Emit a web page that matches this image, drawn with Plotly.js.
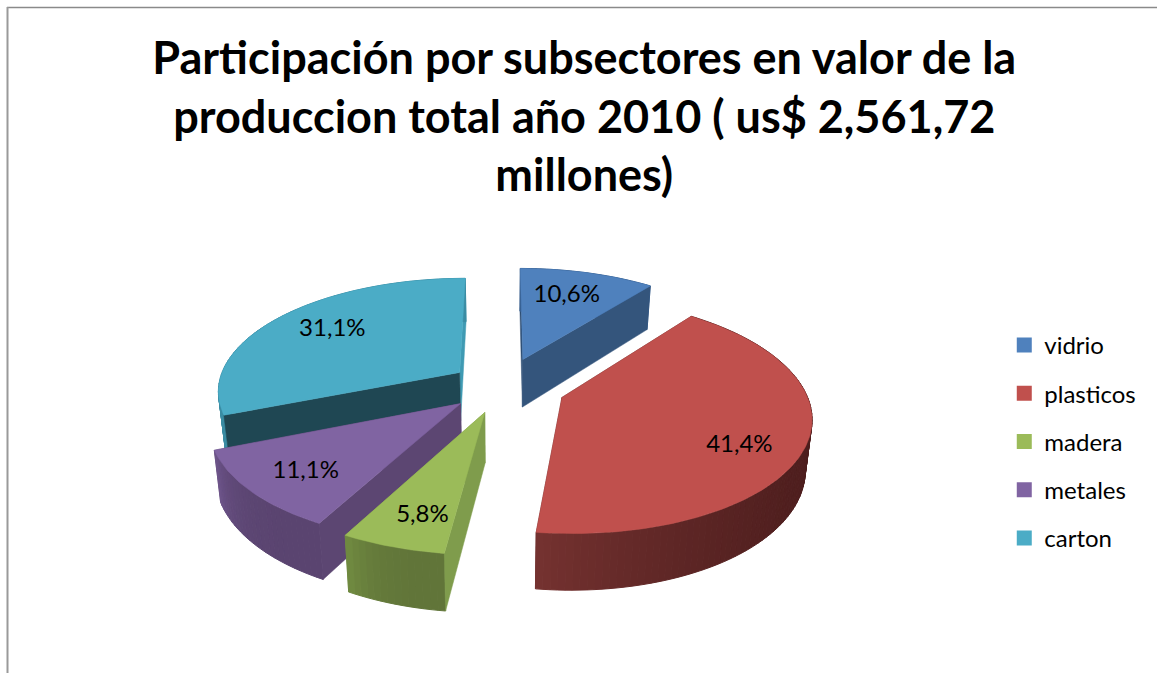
<!DOCTYPE html>
<html>
<head>
<meta charset="utf-8">
<script src="https://cdn.plot.ly/plotly-3.0.1.min.js"></script>
<style>html,body{margin:0;padding:0;background:#fff}#chart{width:1157px;height:673px}</style>
</head>
<body>
<div id="chart"></div>
<script>
// Data
const categories = ["vidrio", "plasticos", "madera", "metales", "carton"];
const values = [10.6, 41.4, 5.8, 11.1, 31.1];
const titleText = "Participación por subsectores en valor de la<br>produccion total año 2010 ( us$ 2,561,72<br>millones)";

// Styles
const topColors = ["#4f81bd", "#c0504d", "#9bbb59", "#8064a2", "#4bacc6"];
const startWallColors = ["#2f4f75", "#5a2524", "#7f9c4c", "#5c4672", "#1f4753"];
const endWallColors = ["#34557c", "#5a2524", "#7f9c4c", "#5c4672", "#3f9ab3"];
const outerStartColors = ["#365f91", "#4a1c1c", "#617539", "#5a4470", "#3a8ca3"];
const outerEndColors = ["#365f91", "#753230", "#718c41", "#6e558b", "#3a8ca3"];
const pulls = [0.26, 0.26, 0.24, 0.23, 0.22];
const labelRadius = [0.707, 0.763, 0.755, 0.752, 0.72];
const labelAngleShift = [-1.4, 6.2, -1.3, 0.6, 2.2];
const labelNudge = [0, 3.5, 5.5, 5, 0.5];
const drawOrder = [4, 0, 3, 2, 1];

// Projection of the tilted pie onto the page
const view = {cx: 503, cy: 386, rx: 242, ry: 112, persp: 0.15, depth: 49, bottomScale: 0.978};
const rad = d => d * Math.PI / 180;
function project(X, Y, down) {
  const w = 1 + view.persp * Y;
  const x = view.cx + view.rx * X / w;
  const y = view.cy - view.ry * Y / w;
  if (!down) return [x, y];
  return [view.cx + (x - view.cx) * view.bottomScale, y + view.depth / Math.pow(w, 0.8)];
}
const total = values.reduce((a, b) => a + b, 0);
let acc = 0;
const slices = values.map((v, i) => {
  const start = acc / total * 360;
  acc += v;
  const end = acc / total * 360;
  const mid = (start + end) / 2;
  return {i, start, end, mid,
    ox: pulls[i] * Math.sin(rad(mid)), oy: pulls[i] * Math.cos(rad(mid))};
});
const rim = (s, t, r, down) =>
  project(s.ox + r * Math.sin(rad(t)), s.oy + r * Math.cos(rad(t)), down);
const apex = (s, down) => project(s.ox, s.oy, down);

function hex(c) { return [1, 3, 5].map(k => parseInt(c.substr(k, 2), 16)); }
function mix(a, b, f) {
  const A = hex(a), B = hex(b);
  return "rgb(" + A.map((x, k) => Math.round(x + (B[k] - x) * f)).join(",") + ")";
}
function poly(pts, color, lw) {
  return {type: "scatter", mode: "lines", fill: "toself", fillcolor: color,
    x: pts.map(p => p[0]).concat(pts[0][0]), y: pts.map(p => p[1]).concat(pts[0][1]),
    line: {color: color, width: lw}, showlegend: false, hoverinfo: "skip"};
}

const traces = [];
drawOrder.forEach(idx => {
  const s = slices[idx];
  const wall = (t, c) => poly([apex(s, false), rim(s, t, 1, false), rim(s, t, 1, true), apex(s, true)], c, 0.5);
  const startFront = Math.sin(rad(s.start)) < -1e-6;
  const endFront = Math.sin(rad(s.end)) > 1e-6;
  // walls facing away first
  if (!startFront) traces.push(wall(s.start, startWallColors[idx]));
  if (!endFront) traces.push(wall(s.end, endWallColors[idx]));
  // outer wall in thin strips for the shading
  const n = Math.max(6, Math.ceil((s.end - s.start) / 1.5));
  for (let k = 0; k < n; k++) {
    const t0 = s.start + (s.end - s.start) * k / n;
    const t1 = s.start + (s.end - s.start) * (k + 1) / n;
    const f = Math.pow((k + 0.5) / n, 3.5);
    traces.push(poly([rim(s, t0, 1, false), rim(s, t1, 1, false), rim(s, t1, 1, true), rim(s, t0, 1, true)],
      mix(outerStartColors[idx], outerEndColors[idx], f), 1));
  }
  // walls facing the viewer
  if (startFront) traces.push(wall(s.start, startWallColors[idx]));
  if (endFront) traces.push(wall(s.end, endWallColors[idx]));
  // top face
  const top = [apex(s, false)];
  for (let t = s.start; t < s.end; t += 1) top.push(rim(s, t, 1, false));
  top.push(rim(s, s.end, 1, false));
  traces.push(poly(top, topColors[idx], 0.5));
});

// percentage labels
const labelPts = slices.map(s => rim(s, s.mid + labelAngleShift[s.i], labelRadius[s.i], false));
traces.push({type: "scatter", mode: "text",
  x: labelPts.map(p => p[0]), y: labelPts.map((p, i) => p[1] + labelNudge[i]),
  text: values.map(v => v.toFixed(1).replace(".", ",") + "%"),
  textposition: "middle center",
  textfont: {family: "Lato, 'Open Sans', sans-serif", size: 24, color: "#000"},
  showlegend: false, hoverinfo: "skip"});

// legend entries
categories.forEach((c, i) => traces.push({type: "scatter", mode: "markers", name: c,
  x: [null], y: [null], legendgroup: c,
  marker: {symbol: "square", size: 15, color: topColors[i]}, hoverinfo: "skip"}));

const layout = {
  width: 1157, height: 673, autosize: false,
  margin: {l: 0, r: 0, t: 0, b: 0},
  paper_bgcolor: "#fff", plot_bgcolor: "#fff",
  title: {text: titleText, x: 0.505, xanchor: "center", xref: "paper",
    y: 0.89, yanchor: "top", yref: "container",
    font: {family: "Lato, 'Open Sans', sans-serif", size: 45, color: "#000", weight: 700}},
  xaxis: {range: [0, 1157], visible: false, fixedrange: true},
  yaxis: {range: [673, 0], visible: false, fixedrange: true},
  showlegend: true,
  legend: {x: 0.868, xanchor: "left", y: 0.344, yanchor: "middle",
    traceorder: "grouped", tracegroupgap: 14, itemwidth: 30, bgcolor: "rgba(0,0,0,0)",
    font: {family: "Lato, 'Open Sans', sans-serif", size: 24, color: "#000"}},
  shapes: [
    {type: "line", xref: "paper", yref: "paper", x0: 7 / 1157, x1: 1, y0: 1 - 7.5 / 673, y1: 1 - 7.5 / 673,
      line: {color: "#8a8a8a", width: 1.5}},
    {type: "line", xref: "paper", yref: "paper", x0: 7.5 / 1157, x1: 7.5 / 1157, y0: 0, y1: 1 - 7 / 673,
      line: {color: "#9a9a9a", width: 2}}
  ]
};
Plotly.newPlot("chart", traces, layout, {displayModeBar: false, staticPlot: true});
</script>
</body>
</html>
